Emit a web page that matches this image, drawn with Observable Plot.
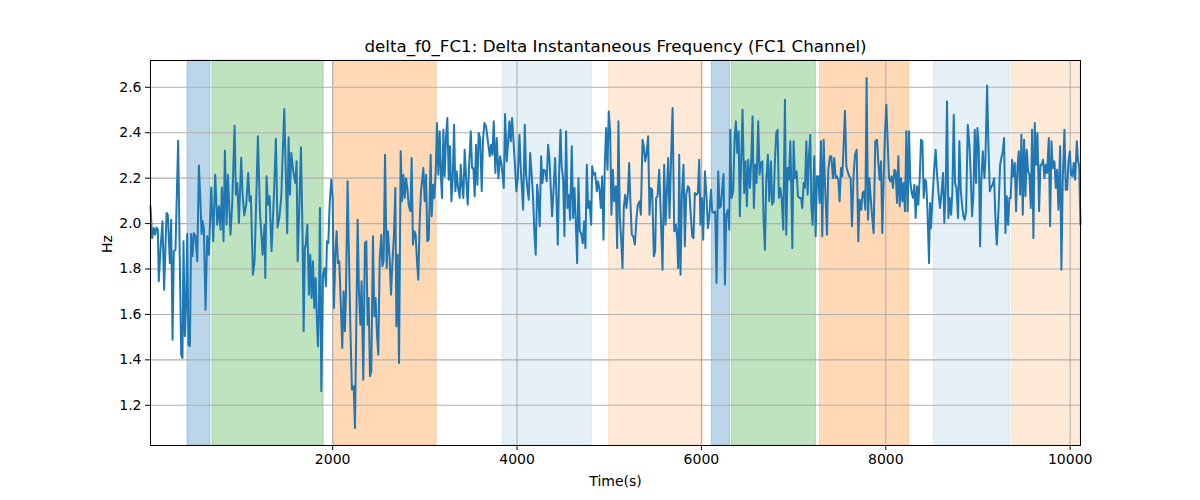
<!DOCTYPE html>
<html><head><meta charset="utf-8">
<script src="https://cdn.jsdelivr.net/npm/d3@7"></script>
<script src="https://cdn.jsdelivr.net/npm/@observablehq/plot@0.6"></script>
<style>body{margin:0;background:#fff;} #chart{width:1200px;height:500px;}</style>
</head><body><div id="chart"></div>
<script>
const titleText = "delta_f0_FC1: Delta Instantaneous Frequency (FC1 Channel)";
const xLabel = "Time(s)";
const yLabel = "Hz";
const xTicks = [2000, 4000, 6000, 8000, 10000];
const yTicks = [1.2, 1.4, 1.6, 1.8, 2.0, 2.2, 2.4, 2.6];

const time = [
24,42,60,75,89,104,114,133,154,172,198,212,234,248,263,277,295,324,342,357,
371,382,397,411,422,436,451,465,480,494,512,531,549,567,578,588,603,621,639,657,
683,704,726,748,766,784,798,816,831,849,863,892,910,936,950,965,983,1008,1023,1041,
1062,1084,1099,1113,1135,1153,1189,1211,1240,1261,1269,1283,1298,1316,1337,1363,1384,1402,1421,1442,
1475,1493,1507,1522,1536,1551,1572,1594,1609,1620,1638,1656,1674,1685,1699,
1706,1725,1743,1757,1772,1786,1801,1815,1826,1840,1851,1862,1877,1895,1913,1927,1938,1953,1967,1985,
2000,2014,2029,2043,2057,2072,2090,2104,2119,2133,2144,2162,2177,2191,2209,2228,2242,2256,2271,2285,
2300,2314,2332,2350,2365,2379,2390,2405,2419,2437,2452,2466,2481,2495,2510,2528,2539,2553,2568,2586,
2600,2618,2633,2647,2665,2680,2691,2705,2720,2738,2752,2767,2781,2796,2810,2824,2843,2857,2871,2886,
2900,2915,2929,2944,2958,2973,2984,2998,3013,3027,3042,3063,3074,3089,3103,3118,3132,3146,3161,3175,
3186,3201,3215,3230,3244,3259,3273,3288,3302,3317,3331,3345,3360,3378,
3389,3403,3418,3432,3450,3465,3479,3498,3512,3526,3541,3555,3570,3584,3599,3617,3631,3646,3664,3682,
3704,3718,3733,3747,3765,3780,3798,3816,3834,3856,3870,3888,3903,3917,3932,3946,3961,3975,3993,4008,
4026,4040,4055,4066,4084,4098,4116,4127,4142,4160,4174,4189,4203,4218,4232,4246,4261,4275,4290,4308,
4322,4337,4351,4366,4380,4395,4413,4427,4442,4456,4471,4485,4500,4514,4532,4547,4561,4576,4594,4608,
4623,4637,4652,4666,4681,4695,4713,4728,4742,4757,4771,4786,4804,4815,4829,4847,4865,4880,4894,4909,
4923,4938,4952,4966,4981,4995,5010,5024,5039,5053,
5072,5086,5100,5115,5129,5144,5158,5173,5187,5202,5216,5231,5245,5260,5278,5296,5310,5328,5343,5361,
5375,5390,5404,5422,5437,5451,5466,5484,5498,5509,5524,5542,5560,5578,5596,5611,5625,5640,5654,5672,
5687,5705,5723,5737,5748,5759,5773,5788,5806,5820,5835,5853,5867,5882,5900,5914,5929,5947,5962,5976,
5990,6005,6019,6038,6056,6070,6085,6103,6117,6135,6150,6164,6182,6197,6211,6226,6240,6255,6269,6287,
6302,6313,6327,6345,6360,6374,6388,6403,6417,6432,6446,6464,6479,6493,6508,6526,6540,6555,6569,6584,
6598,6616,6631,6645,6660,6674,6689,6703,6721,6736,
6754,6768,6783,6797,6812,6826,6841,6855,6870,6888,6906,6920,6935,6949,6964,6975,6986,7000,7014,7033,
7047,7065,7080,7094,7109,7123,7138,7152,7166,7181,7192,7206,7224,7239,7253,7268,7282,7297,7311,7326,
7340,7362,7376,7394,7409,7427,7441,7456,7470,7485,7499,7514,7528,7543,7557,7572,7586,7604,7619,7633,
7651,7666,7684,7702,7716,7734,7749,7763,7778,7792,7807,7821,7836,7850,7868,7886,7905,7919,7933,7948,
7962,7977,7991,8006,8020,8035,8049,8064,8078,8093,8107,8122,8136,8151,8165,8180,8194,8208,8223,8237,
8252,8266,8281,8295,8310,8324,8339,8353,8368,8382,8397,8411,8426,
8437,8451,8469,8480,8491,8505,8523,8541,8556,8574,8588,8603,8621,8635,8650,8664,8679,8693,8708,8722,
8737,8751,8766,8784,8798,8813,8827,8842,8856,8871,8889,8907,8921,8936,8950,8965,8979,8994,9008,9023,
9037,9052,9070,9080,9099,9113,9128,9146,9160,9175,9189,9204,9222,9240,9254,9269,9283,9298,9312,9327,
9341,9355,9370,9384,9399,9413,9428,9442,9457,9471,9486,9500,9515,9529,9544,9558,9573,9587,9601,9616,
9630,9645,9663,9677,9692,9706,9721,9735,9750,9768,9782,9797,9811,9829,9844,9858,9873,9891,9905,9920,
9938,9952,9967,9981,9996,10010,10025,10039,10054,10072,10086,10097,10112
];

const freq = [
2.076,1.936,1.98,1.951,1.983,1.973,1.746,1.892,2.01,1.709,2.047,2.039,1.826,2.017,1.489,1.878,1.885,2.365,1.834,1.423,
1.408,1.922,1.504,1.658,1.954,1.467,1.46,1.954,1.856,1.958,1.944,1.834,2.256,2.083,1.954,2.013,1.98,1.621,1.944,1.863,
2.159,1.922,2.215,1.995,2.076,1.973,2.159,1.922,2.321,1.995,2.215,1.951,2.083,2.431,2.127,2.179,2.003,2.29,2.127,2.036,
2.083,2.223,2.098,2.12,1.775,1.834,2.384,2.054,1.863,1.995,1.76,2.208,2.083,2.12,1.878,2.127,2.374,1.983,2.025,2.113,
2.504,2.2,1.958,2.38,2.127,2.311,2.23,2.179,2.274,1.834,2.069,2.336,1.936,1.526,1.9,
1.90,1.995,1.687,1.863,1.672,1.834,1.628,1.76,1.614,1.46,1.614,2.069,1.262,1.775,1.804,1.724,1.922,1.914,2.083,2.193,
2.113,1.628,1.863,1.966,1.826,1.834,1.628,1.452,1.702,1.526,1.687,2.186,1.848,1.562,1.269,1.284,1.10,1.54,2.017,1.702,
1.555,1.746,1.313,1.914,1.922,1.555,1.672,1.328,1.35,1.944,1.592,1.672,1.511,1.423,1.841,1.951,1.812,1.834,2.303,1.804,
1.966,1.848,1.687,1.819,1.951,2.157,1.548,1.863,1.386,2.318,2.098,2.215,2.113,2.2,2.157,2.083,2.054,2.289,1.907,1.966,
1.951,1.834,1.753,2.01,2.142,2.2,2.245,2.098,2.215,1.922,1.929,2.303,2.032,2.171,2.113,2.23,2.443,2.215,2.406,2.2,
2.113,2.413,2.208,2.384,2.465,2.193,2.34,2.098,2.193,2.435,2.142,2.23,2.157,2.113,
2.259,2.171,2.113,2.325,2.186,2.083,2.245,2.406,2.245,2.245,2.12,2.347,2.171,2.399,2.377,2.142,2.369,2.443,2.428,2.369,
2.296,2.347,2.303,2.45,2.223,2.377,2.2,2.296,2.252,2.157,2.482,2.274,2.362,2.45,2.362,2.465,2.369,2.274,2.142,2.2,
2.391,2.245,2.142,2.061,2.435,2.215,2.142,2.105,2.311,2.208,2.113,1.951,1.863,2.171,2.113,1.988,2.296,2.179,2.237,2.23,
2.186,2.347,2.289,2.157,2.032,2.142,2.289,2.127,1.907,2.215,2.413,2.245,2.2,1.944,2.406,2.069,2.127,2.017,2.34,2.025,
2.157,2.01,1.826,2.2,1.966,1.958,1.914,2.01,1.892,2.259,2.069,2.098,1.995,2.252,2.215,2.223,2.142,2.186,2.149,2.069,
2.208,1.929,2.259,2.421,2.237,2.494,2.406,2.039,2.237,2.098,
2.164,1.892,2.45,2.025,1.936,1.804,2.069,2.127,2.069,2.127,2.267,2.083,1.951,1.944,1.907,2.025,2.083,2.098,2.039,2.369,
2.34,2.274,2.303,2.384,2.039,2.157,2.149,1.856,1.878,2.113,2.12,2.237,2.025,1.797,2.259,1.995,2.142,2.289,2.025,2.303,
2.509,1.966,1.995,1.936,1.804,2.303,1.775,2.127,2.259,1.9,2.127,2.164,2.157,2.054,1.944,1.936,2.135,2.127,2.135,2.281,
1.995,2.113,1.929,2.23,2.113,1.98,2.025,2.149,2.054,2.047,2.054,1.738,2.23,2.069,2.076,2.157,2.218,1.731,2.039,2.061,
1.973,2.413,2.113,2.142,2.377,2.45,2.311,2.406,2.032,2.296,2.501,2.135,2.274,2.076,2.281,2.157,2.274,2.472,2.069,2.259,
2.179,2.45,2.215,2.267,2.274,2.025,1.885,2.186,2.303,2.098,
2.274,2.083,2.098,2.274,2.399,2.413,2.113,2.157,2.113,1.973,2.545,1.951,2.245,2.193,2.362,2.164,1.892,2.362,2.2,2.23,
2.12,2.113,2.113,2.069,2.179,2.157,2.362,2.127,2.296,2.391,2.083,1.995,2.296,1.944,2.208,2.208,2.091,2.362,1.944,2.369,
2.179,1.951,2.237,2.296,2.296,2.2,2.289,2.2,2.208,2.193,2.098,2.245,2.208,2.347,2.497,2.252,2.23,2.208,2.2,1.988,
2.215,2.303,2.325,1.922,2.105,2.061,2.135,2.142,2.061,2.641,2.017,2.2,2.113,2.039,1.958,2.362,2.369,2.267,2.193,2.274,
1.958,2.2,2.399,2.523,2.362,2.2,2.186,2.208,2.157,2.237,2.23,2.091,2.296,2.076,2.2,2.098,2.179,2.054,2.406,2.054,
2.406,2.186,2.135,2.113,2.171,2.025,2.164,2.083,2.2,2.369,2.362,2.113,2.193,
2.186,2.069,1.826,2.091,1.98,2.098,2.23,2.325,2.215,2.127,2.069,2.127,2.223,2.003,2.157,2.538,2.025,2.113,2.039,2.135,
2.479,2.179,2.157,2.025,2.362,2.149,2.083,2.032,2.017,2.054,2.435,2.347,2.215,2.032,2.127,2.413,2.179,2.421,2.34,1.9,
2.2,2.318,2.2,2.274,2.608,2.347,2.142,2.164,2.171,2.2,2.025,1.907,2.054,2.259,2.289,2.318,2.377,1.958,2.12,1.995,
2.113,2.113,2.281,2.208,2.267,2.054,2.245,2.318,2.127,2.391,2.039,2.369,2.12,2.325,2.23,2.215,2.069,2.413,1.936,2.443,
2.259,2.399,2.054,2.259,2.259,2.281,2.2,2.259,2.223,2.377,1.988,2.362,2.245,2.274,2.157,2.237,2.061,2.34,1.797,2.2,
2.413,2.149,2.149,2.274,2.318,2.215,2.208,2.267,2.193,2.362,2.274,2.259,1.995
];

const spanStart = [426, 697, 2010, 3845, 4995, 6113, 6330, 7286, 8523, 9370];
const spanEnd   = [675, 1902, 3128, 4811, 6016, 6309, 7242, 8252, 9348, 10112];
const spanKind  = ["a", "b", "c", "d", "e", "a", "b", "c", "d", "e"];

const spanStyle = {
  a: {color: "#1f77b4", alpha: 0.3},
  b: {color: "#2ca02c", alpha: 0.3},
  c: {color: "#ff7f0e", alpha: 0.3},
  d: {color: "#1f77b4", alpha: 0.11},
  e: {color: "#ff7f0e", alpha: 0.16}
};

const n = Math.min(time.length, freq.length);
const data = d3.range(n).map(i => ({t: time[i], f: freq[i]}));
const spans = spanStart.map((s, i) => ({s, e: spanEnd[i], k: spanKind[i]}));

const spanMarks = Object.keys(spanStyle).map(k => Plot.rect(spans.filter(d => d.k === k), {
  x1: "s", x2: "e",
  fill: spanStyle[k].color, fillOpacity: spanStyle[k].alpha,
  stroke: spanStyle[k].color, strokeOpacity: spanStyle[k].alpha, strokeWidth: 1
}));

const chart = Plot.plot({
  width: 1200, height: 500,
  marginLeft: 150, marginRight: 120, marginTop: 60, marginBottom: 55,
  style: {fontFamily: "DejaVu Sans, sans-serif", fontSize: "14px", background: "white", color: "black"},
  x: {domain: [24, 10112]},
  y: {domain: [1.023, 2.718]},
  marks: [
    ...spanMarks,
    Plot.gridX({ticks: xTicks, stroke: "#b0b0b0", strokeOpacity: 1, strokeWidth: 1.1}),
    Plot.gridY({ticks: yTicks, stroke: "#b0b0b0", strokeOpacity: 1, strokeWidth: 1.1}),
    Plot.line(data, {x: "t", y: "f", stroke: "#1f77b4", strokeWidth: 2}),
    Plot.frame({stroke: "black", strokeWidth: 1}),
    Plot.axisX({ticks: xTicks, tickSize: 5, tickPadding: 4, label: null, fontSize: 14, tickFormat: d3.format("d")}),
    Plot.axisY({ticks: yTicks, tickSize: 5, tickPadding: 4, label: null, fontSize: 14, tickFormat: d3.format(".1f")}),
    Plot.text([titleText], {text: d => d, frameAnchor: "top", lineAnchor: "middle", dy: -14, fontSize: 16.7}),
    Plot.text([xLabel], {text: d => d, frameAnchor: "bottom", lineAnchor: "middle", dy: 36, fontSize: 14}),
    Plot.text([yLabel], {text: d => d, frameAnchor: "left", lineAnchor: "middle", dx: -43, rotate: -90, fontSize: 14})
  ]
});
document.getElementById("chart").appendChild(chart);
</script>
</body></html>
